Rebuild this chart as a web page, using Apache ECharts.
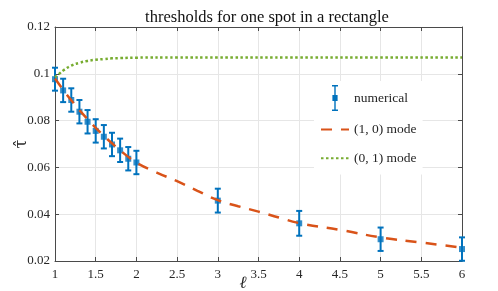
<!DOCTYPE html>
<html>
<head>
<meta charset="utf-8">
<script src="https://cdn.jsdelivr.net/npm/echarts@6/dist/echarts.min.js"></script>
<style>
html,body{margin:0;padding:0;background:#fff;}
#c{width:498px;height:291px;}
</style>
</head>
<body>
<div id="c"></div>
<script>
// ---- data ----
const titleText = 'thresholds for one spot in a rectangle';
const xName = 'ℓ';
const yName = 'τ̂';
const seriesNames = ['numerical', '(1, 0) mode', '(0, 1) mode'];

const numX   = [1, 1.1, 1.2, 1.3, 1.4, 1.5, 1.6, 1.7, 1.8, 1.9, 2, 3, 4, 5, 6];
const numY   = [0.0977, 0.0929, 0.0888, 0.0838, 0.0795, 0.0756, 0.0731, 0.0698, 0.0673, 0.0637, 0.0621, 0.0458, 0.0361, 0.0293, 0.0251];
const numErr = [0.0049, 0.0050, 0.0050, 0.0050, 0.0050, 0.0050, 0.0050, 0.0050, 0.0050, 0.0050, 0.0050, 0.0051, 0.0053, 0.0050, 0.0050];

const mode10X = [1, 1.1, 1.2, 1.3, 1.4, 1.5, 1.6, 1.7, 1.8, 1.9, 2, 2.25, 2.5, 2.75, 3, 3.25, 3.5, 3.75, 4, 4.5, 5, 5.5, 6];
const mode10Y = [0.0980, 0.0932, 0.0887, 0.0845, 0.0806, 0.0769, 0.0735, 0.0703, 0.0673, 0.0645, 0.0620, 0.0578, 0.0541, 0.0500, 0.0460, 0.0434, 0.0411, 0.0386, 0.0362, 0.0333, 0.0301, 0.0279, 0.0257];

const mode01X = [1, 1.05, 1.1, 1.2, 1.3, 1.4, 1.5, 1.6, 1.7, 1.8, 2, 2.5, 3, 4, 5, 6];
const mode01Y = [0.0985, 0.0999, 0.1014, 0.1035, 0.1047, 0.1055, 0.1060, 0.1063, 0.1066, 0.1067, 0.1069, 0.1070, 0.1070, 0.1070, 0.1070, 0.1070];

const xTicks = {min: 1, max: 6, interval: 0.5};
const yTicks = {min: 0.02, max: 0.12, interval: 0.02};

// ---- styles ----
const FONT = 'Liberation Serif';
const BLUE = '#0072BD', ORANGE = '#D95319', GREEN = '#77AC30';
const AXIS = '#4a4a4a', GRID = '#e6e6e6', TXT = '#262626';

const chart = echarts.init(document.getElementById('c'), null, {renderer: 'canvas'});

const errData = numX.map((x, i) => [x, numY[i] - numErr[i], numY[i] + numErr[i]]);
const ptData = numX.map((x, i) => [x, numY[i]]);
const m10 = mode10X.map((x, i) => [x, mode10Y[i]]);
const m01 = mode01X.map((x, i) => [x, mode01Y[i]]);

function fmtY(v){ return (Math.round(v*100)/100).toString(); }
function fmtX(v){ return (Math.round(v*10)/10).toString(); }

const baseAxis = {
  axisLine: {show: true, onZero: false, lineStyle: {color: AXIS, width: 1}},
  axisTick: {show: true, inside: true, length: 4, lineStyle: {color: AXIS}},
};

const option = {
  animation: false,
  backgroundColor: '#fff',
  title: {
    text: titleText,
    left: 262, top: 4, textAlign: 'center',
    textStyle: {fontFamily: FONT, fontSize: 16.5, fontWeight: 'normal', color: '#111'}
  },
  grid: {left: 55, right: 36, top: 27, bottom: 30, containLabel: false, outerBoundsMode: 'none'},
  xAxis: [
    Object.assign({}, baseAxis, {
      type: 'value', position: 'bottom', min: xTicks.min, max: xTicks.max, interval: xTicks.interval,
      name: xName, nameLocation: 'middle', nameGap: 14, nameMoveOverlap: false,
      nameTextStyle: {fontFamily: FONT, fontSize: 17, fontStyle: 'italic', color: TXT, padding: [0, 31, 0, 0]},
      axisLabel: {fontFamily: FONT, fontSize: 13, color: TXT, margin: 7, formatter: fmtX},
      splitLine: {show: true, lineStyle: {color: GRID, width: 1}}
    }),
    Object.assign({}, baseAxis, {
      type: 'value', position: 'top', min: xTicks.min, max: xTicks.max, interval: xTicks.interval,
      axisLabel: {show: false}, splitLine: {show: false}
    })
  ],
  yAxis: [
    Object.assign({}, baseAxis, {
      type: 'value', position: 'left', min: yTicks.min, max: yTicks.max, interval: yTicks.interval,
      name: yName, nameLocation: 'middle', nameGap: 25, nameRotate: 90, nameMoveOverlap: false,
      nameTextStyle: {fontFamily: 'DejaVu Serif', fontSize: 16, color: TXT},
      axisLabel: {fontFamily: FONT, fontSize: 13, color: TXT, margin: 5, formatter: fmtY},
      splitLine: {show: true, lineStyle: {color: GRID, width: 1}}
    }),
    Object.assign({}, baseAxis, {
      type: 'value', position: 'right', min: yTicks.min, max: yTicks.max, interval: yTicks.interval,
      axisLabel: {show: false}, splitLine: {show: false}
    })
  ],
  legend: {
    orient: 'vertical',
    left: 314, top: 81,
    padding: [4, 6, 6, 6],
    backgroundColor: '#fff',
    itemWidth: 28, itemHeight: 26, itemGap: 8,
    textStyle: {fontFamily: FONT, fontSize: 13.5, color: TXT},
    data: [
      {name: seriesNames[0], icon: 'path://M2,0H8V1.4H5.7V10H7.6V16H5.7V24.6H8V26H2V24.6H4.3V16H2.4V10H4.3V1.4H2Z', itemStyle: {color: BLUE}},
      {name: seriesNames[1], itemStyle: {opacity: 0}},
      {name: seriesNames[2], itemStyle: {opacity: 0}}
    ]
  },
  series: [
    {
      name: seriesNames[0], type: 'custom', xAxisIndex: 0, yAxisIndex: 0, z: 2,
      itemStyle: {color: BLUE},
      encode: {x: 0, y: [1, 2]},
      data: errData,
      renderItem: function (params, api) {
        const x = api.value(0);
        const lo = api.coord([x, api.value(1)]);
        const hi = api.coord([x, api.value(2)]);
        const c = 3;
        const st = {stroke: BLUE, lineWidth: 2, fill: null};
        return {
          type: 'group',
          children: [
            {type: 'line', shape: {x1: lo[0], y1: lo[1], x2: hi[0], y2: hi[1]}, style: st},
            {type: 'line', shape: {x1: lo[0]-c, y1: lo[1], x2: lo[0]+c, y2: lo[1]}, style: st},
            {type: 'line', shape: {x1: hi[0]-c, y1: hi[1], x2: hi[0]+c, y2: hi[1]}, style: st}
          ]
        };
      }
    },
    {
      name: seriesNames[0], type: 'scatter', xAxisIndex: 0, yAxisIndex: 0, z: 3,
      symbol: 'rect', symbolSize: 6,
      itemStyle: {color: BLUE},
      data: ptData
    },
    {
      name: seriesNames[1], type: 'line', xAxisIndex: 0, yAxisIndex: 0, z: 4,
      smooth: true, showSymbol: false, symbol: 'none',
      lineStyle: {color: ORANGE, width: 2.5, type: [11, 9]},
      itemStyle: {color: ORANGE},
      data: m10
    },
    {
      name: seriesNames[2], type: 'line', xAxisIndex: 0, yAxisIndex: 0, z: 4,
      smooth: true, showSymbol: false, symbol: 'none',
      lineStyle: {color: GREEN, width: 2.5, type: [2.5, 2.5]},
      itemStyle: {color: GREEN},
      data: m01
    }
  ]
};
chart.setOption(option);
</script>
</body>
</html>
